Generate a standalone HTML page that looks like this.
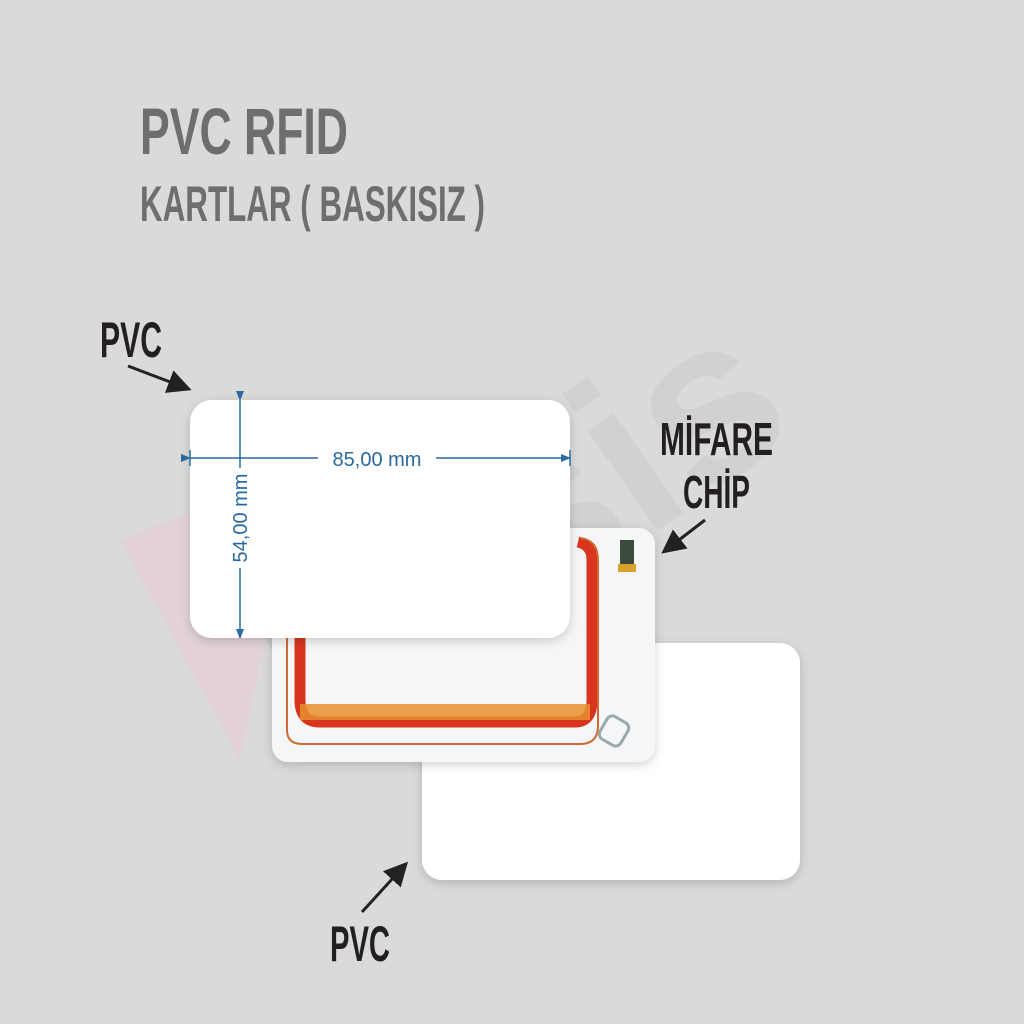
<!DOCTYPE html>
<html><head><style>html,body{margin:0;padding:0;background:#d9dad9;}svg{display:block}</style></head>
<body>
<svg width="1024" height="1024" viewBox="0 0 1024 1024" xmlns="http://www.w3.org/2000/svg">
<defs>
<filter id="sh" x="-10%" y="-10%" width="120%" height="130%"><feDropShadow dx="0" dy="3" stdDeviation="5" flood-color="#000" flood-opacity="0.18"/></filter>
<marker id="ar" markerWidth="8" markerHeight="8" refX="6" refY="4" orient="auto" markerUnits="strokeWidth"><path d="M0,0 L8,4 L0,8 z" fill="#222"/></marker>
<marker id="bl" markerWidth="10" markerHeight="8" refX="9" refY="4" orient="auto" markerUnits="userSpaceOnUse"><path d="M0,0 L10,4 L0,8 z" fill="#2a6aa0"/></marker>
</defs>
<rect width="1024" height="1024" fill="#d9dad9"/>
<path d="M120,540 L300,470 L240,760 Z" fill="#e6cfd6" opacity="0.7"/>
<text x="0" y="0" transform="translate(330,760) rotate(-35)" font-family="Liberation Sans, sans-serif" font-weight="bold" font-size="230" fill="#cfd0d0" opacity="0.8">kasis</text>
<rect x="422" y="643" width="378" height="237" rx="20" fill="#fff" filter="url(#sh)"/>
<rect x="272" y="528" width="383" height="234" rx="16" fill="#f5f6f7" filter="url(#sh)"/>
<path d="M300,600 L300,700 Q300,722 320,722 L575,722 Q592,722 592,700 L592,560 Q592,545 578,542" fill="none" stroke="#d8341e" stroke-width="11"/>
<path d="M300,712 L590,712" stroke="#e8902e" stroke-width="16" opacity="0.85"/>
<path d="M287,600 L287,730 Q287,744 302,744 L580,744 Q598,744 598,726 L598,560 Q598,540 580,538" fill="none" stroke="#d06a30" stroke-width="2"/>
<rect x="620" y="540" width="14" height="32" fill="#3b4a3a"/>
<rect x="618" y="564" width="18" height="8" fill="#d7a12a"/>
<rect x="602" y="718" width="24" height="26" rx="6" fill="none" stroke="#9aa" stroke-width="3" transform="rotate(30 614 731)"/>
<rect x="190" y="400" width="380" height="238" rx="22" fill="#fff" filter="url(#sh)"/>
<line x1="240" y1="400" x2="240" y2="638" stroke="#2a6aa0" stroke-width="1.5" marker-start="url(#bl)" marker-end="url(#bl)" />
<line x1="190" y1="458" x2="570" y2="458" stroke="#2a6aa0" stroke-width="1.5" marker-start="url(#bl)" marker-end="url(#bl)"/>
<rect x="318" y="446" width="118" height="24" fill="#fff"/>
<rect x="228" y="468" width="24" height="100" fill="#fff"/>
<line x1="190" y1="450" x2="190" y2="466" stroke="#2a6aa0" stroke-width="1.5"/>
<line x1="570" y1="450" x2="570" y2="466" stroke="#2a6aa0" stroke-width="1.5"/>
<text x="377" y="466" text-anchor="middle" font-family="Liberation Sans Narrow, Liberation Sans, sans-serif" font-size="20" fill="#2a6aa0">85,00 mm</text>
<text transform="translate(247,518) rotate(-90)" text-anchor="middle" font-family="Liberation Sans Narrow, Liberation Sans, sans-serif" font-size="20" fill="#2a6aa0">54,00 mm</text>
<text x="140" y="154" font-family="Liberation Sans Narrow, Liberation Sans, sans-serif" font-weight="bold" font-size="66" fill="#6d6e70" textLength="208" lengthAdjust="spacingAndGlyphs">PVC RFID</text>
<text x="140" y="221" font-family="Liberation Sans Narrow, Liberation Sans, sans-serif" font-weight="bold" font-size="50" fill="#6d6e70" textLength="345" lengthAdjust="spacingAndGlyphs">KARTLAR ( BASKISIZ )</text>
<g font-family="Liberation Sans Narrow, Liberation Sans, sans-serif" font-weight="bold" fill="#231f20">
<text x="100" y="357" font-size="50" textLength="62" lengthAdjust="spacingAndGlyphs">PVC</text>
<text x="660" y="455" font-size="46" textLength="113" lengthAdjust="spacingAndGlyphs">MİFARE</text>
<text x="683" y="508" font-size="46" textLength="67" lengthAdjust="spacingAndGlyphs">CHİP</text>
<text x="330" y="961" font-size="50" textLength="60" lengthAdjust="spacingAndGlyphs">PVC</text>
</g>
<g stroke="#222" stroke-width="3" fill="none">
<line x1="128" y1="366" x2="186" y2="388" marker-end="url(#ar)"/>
<line x1="705" y1="520" x2="666" y2="550" marker-end="url(#ar)"/>
<line x1="362" y1="912" x2="404" y2="866" marker-end="url(#ar)"/>
</g>
</svg>
</body></html>
